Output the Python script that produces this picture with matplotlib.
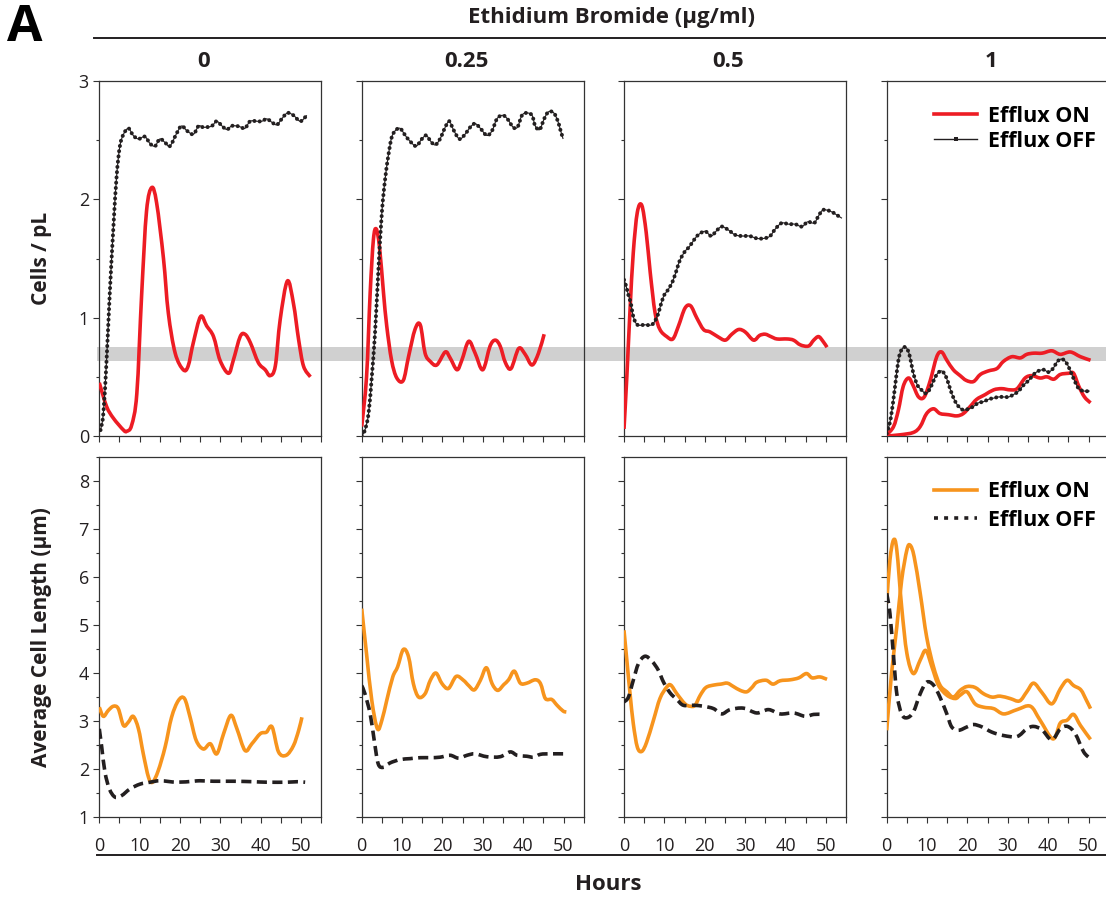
import numpy as np
import matplotlib
matplotlib.use('Agg')
import matplotlib.pyplot as plt
from matplotlib.patches import Rectangle, PathPatch
from matplotlib.path import Path
from matplotlib.lines import Line2D
from matplotlib.ticker import MultipleLocator, FuncFormatter

plt.rcParams['font.family'] = ['Open Sans', 'DejaVu Sans']

# ---- data: Ethidium Bromide concentrations ----
conc_labels = ['0', '0.25', '0.5', '1']

# cells / pL, efflux ON (red) and efflux OFF (black dotted)
cells_on_t = [
    [0, 1.8, 3.5, 6, 6.8, 8, 9.3, 10.5, 11.7, 13, 14.2, 15.9, 17.1, 18.8, 20.8, 22, 23.3, 25.1, 26.6,
     28.3, 29.9, 32, 33.2, 34.9, 36.1, 37.4, 39.4, 41.1, 42.3, 43.6, 44.8, 46.6, 48.1, 49.4, 50.6, 52.3],
    [0, 1.2, 2.1, 2.9, 3.6, 4.4, 5.4, 6.2, 7.4, 8.7, 10.3, 11.6, 13.2, 14.5, 15.7, 17, 18.6, 20.7, 21.9, 23.6,
     24.8, 26.5, 28.1, 30, 31.8, 33.1, 34.3, 35.6, 37, 38.9, 40.5, 42.2, 43.8, 45.2],
    [0, 0.7, 1.5, 2.3, 3.3, 4.4, 5.5, 6.5, 7.7, 8.9, 10.6, 12.1, 13.5, 15.1, 16.5, 18, 19.7, 21.3, 23.2, 25.1,
     26.7, 28.4, 30, 32.1, 33.6, 35, 36.4, 37.9, 40.4, 42, 43.7, 45.7, 47, 48.2, 49.3, 50.3],
]
cells_on = [
    [0.45, 0.25, 0.15, 0.05, 0.04, 0.09, 0.36, 1.2, 1.9, 2.1, 1.97, 1.5, 1.04, 0.70, 0.56, 0.59, 0.79,
     1.01, 0.93, 0.84, 0.64, 0.53, 0.64, 0.84, 0.86, 0.79, 0.62, 0.56, 0.51, 0.59, 0.98, 1.31, 1.12, 0.81, 0.59, 0.50],
    [0.08, 0.5, 1.21, 1.66, 1.75, 1.6, 1.21, 0.93, 0.64, 0.49, 0.47, 0.67, 0.9, 0.94, 0.7, 0.63, 0.60, 0.71, 0.66,
     0.56, 0.64, 0.8, 0.7, 0.56, 0.76, 0.81, 0.76, 0.62, 0.57, 0.74, 0.69, 0.60, 0.7, 0.86],
    [0.06, 0.5, 1.07, 1.55, 1.89, 1.95, 1.72, 1.38, 1.04, 0.9, 0.84, 0.82, 0.93, 1.08, 1.1, 1.0, 0.9, 0.88, 0.84,
     0.81, 0.86, 0.9, 0.88, 0.81, 0.85, 0.86, 0.84, 0.82, 0.82, 0.81, 0.77, 0.76, 0.81, 0.84, 0.8, 0.75],
]
# highest concentration has two efflux-ON replicates
cells_on_1a_t = [0, 1.7, 2.9, 4.1, 5.4, 6.5, 7.9, 9.3, 10.8, 12.4, 13.6, 14.9, 16.5, 18.2, 19.7, 21.5, 23.2, 25.2,
                 27.3, 28.9, 31, 33.1, 34.7, 36.4, 38.5, 40.9, 43, 45.5, 48, 50.5]
cells_on_1a = [0.01, 0.08, 0.22, 0.42, 0.49, 0.43, 0.33, 0.33, 0.47, 0.67, 0.71, 0.64, 0.56, 0.51, 0.47, 0.46,
               0.52, 0.55, 0.57, 0.63, 0.67, 0.66, 0.69, 0.7, 0.7, 0.72, 0.69, 0.71, 0.67, 0.64]
cells_on_1b_t = [0, 3.3, 6.6, 8.3, 9.9, 11.6, 13.2, 15.3, 17.4, 19, 20.7, 22.3, 24.4, 26.5, 28.5, 30.6, 32.3,
                 34.3, 36, 38, 39.7, 41.4, 43, 45.1, 46.3, 47.6, 49, 50.5]
cells_on_1b = [0, 0.01, 0.03, 0.08, 0.19, 0.23, 0.19, 0.18, 0.17, 0.19, 0.25, 0.31, 0.35, 0.39, 0.4, 0.39, 0.4,
               0.49, 0.51, 0.49, 0.5, 0.48, 0.52, 0.53, 0.53, 0.42, 0.33, 0.28]

cells_off_t = [
    [0.3, 1, 1.8, 2.6, 3.5, 4.3, 5.1, 6, 7.2, 8.4, 9.7, 11.3, 12.6, 13.8, 15, 16.3, 17.5, 19.2, 20.4, 21.7, 23.3,
     24.6, 25.6, 26.6, 27.9, 29.1, 30.4, 31.6, 32.8, 34.1, 35.1, 36.1, 37.4, 39, 40.3, 41.5, 42.8, 44, 45.2, 46.6,
     48.1, 49.8, 51.4],
    [0, 0.8, 1.7, 2.5, 3.3, 4.1, 5, 5.8, 6.6, 7.4, 8.3, 9.5, 10.8, 12, 13.5, 14.9, 16, 17.1, 18.2, 19.4, 20.7,
     21.7, 22.7, 24.2, 25.6, 26.9, 28.1, 29.4, 31, 32.3, 33.5, 34.9, 36.1, 37.5, 38.6, 39.7, 40.9, 42.2, 43,
     44.1, 45.2, 46.3, 47.6, 48.6, 49.2, 49.9],
    [0, 0.5, 1.1, 1.7, 2.3, 3.3, 5.2, 6.9, 8.1, 8.8, 9.8, 11, 12.1, 13.2, 13.9, 15.1, 16.2, 17.2, 18.4, 20.1,
     21.6, 22.8, 24.2, 25.9, 27.5, 29.2, 31.1, 32.9, 34.7, 36.2, 37.5, 39.1, 40.8, 42.4, 44.1, 45.5, 47.1, 48.2,
     49.3, 51.1, 52.6, 54],
    [0, 1, 2, 2.9, 3.7, 4.7, 5.6, 6.6, 7.6, 8.6, 9.6, 10.4, 11.4, 12.4, 13.6, 14.7, 15.7, 16.7, 17.8, 19, 20.3,
     21.5, 22.7, 24, 25.2, 26.5, 27.7, 28.9, 30.2, 31.4, 32.7, 33.9, 35.2, 36.4, 37.6, 38.9, 40.1, 41.2, 42.3,
     43.4, 44.5, 45.5, 46.5, 47.6, 48.8, 50.3],
]
cells_off = [
    [0.05, 0.19, 0.64, 1.21, 1.77, 2.2, 2.45, 2.55, 2.6, 2.54, 2.51, 2.53, 2.47, 2.45, 2.51, 2.48, 2.45, 2.56,
     2.62, 2.58, 2.55, 2.62, 2.61, 2.61, 2.62, 2.66, 2.62, 2.59, 2.62, 2.62, 2.61, 2.6, 2.66, 2.66, 2.66, 2.68,
     2.65, 2.63, 2.68, 2.73, 2.71, 2.66, 2.71],
    [0, 0.05, 0.19, 0.5, 0.87, 1.38, 1.89, 2.17, 2.37, 2.52, 2.58, 2.6, 2.54, 2.49, 2.45, 2.51, 2.54, 2.49, 2.46,
     2.51, 2.61, 2.66, 2.59, 2.51, 2.55, 2.61, 2.64, 2.6, 2.54, 2.58, 2.68, 2.71, 2.68, 2.61, 2.61, 2.71, 2.73,
     2.71, 2.62, 2.59, 2.68, 2.74, 2.73, 2.66, 2.59, 2.51],
    [1.32, 1.27, 1.19, 1.12, 1.01, 0.94, 0.94, 0.94, 1.0, 1.07, 1.18, 1.24, 1.31, 1.42, 1.49, 1.56, 1.60, 1.65,
     1.70, 1.73, 1.69, 1.73, 1.77, 1.74, 1.70, 1.69, 1.69, 1.67, 1.67, 1.69, 1.75, 1.80, 1.79, 1.79, 1.77, 1.81,
     1.80, 1.86, 1.91, 1.90, 1.87, 1.84],
    [0.02, 0.15, 0.4, 0.64, 0.73, 0.75, 0.69, 0.53, 0.43, 0.39, 0.36, 0.38, 0.45, 0.52, 0.55, 0.50, 0.40, 0.31,
     0.25, 0.22, 0.23, 0.25, 0.28, 0.29, 0.31, 0.32, 0.33, 0.33, 0.33, 0.35, 0.38, 0.43, 0.47, 0.52, 0.55, 0.56,
     0.54, 0.57, 0.63, 0.65, 0.62, 0.55, 0.47, 0.40, 0.38, 0.38],
]

# average cell length (um), efflux ON (orange) and efflux OFF (black dashed)
length_on_t = [
    [0, 1, 2.2, 3.5, 4.7, 6, 7.2, 8.4, 9.7, 10.9, 12.2, 13.2, 14.6, 16.3, 17.9, 19.6, 21.1, 22.5, 24, 25.8, 27.5,
     29.1, 30.8, 32.6, 34.1, 36.1, 37.8, 39.9, 41.4, 42.8, 44.4, 46.3, 48.1, 49.4, 50.2],
    [0, 1.2, 2.5, 3.9, 5, 6.2, 7.7, 8.9, 10.3, 11.6, 12.8, 14.1, 15.7, 17, 18.4, 19.9, 21.5, 23.4, 25.2, 26.5,
     27.9, 29.4, 30.9, 32.3, 33.7, 35.2, 36.4, 37.8, 39.3, 40.9, 43, 44.3, 45.5, 47.1, 48.4, 49.9, 50.7],
    [0, 0.7, 1.5, 2.3, 3.3, 4.4, 5.6, 7.3, 8.9, 10.6, 11.6, 13.1, 15.1, 16.4, 17.6, 18.9, 20.3, 22.2, 24, 25.6,
     27.1, 28.8, 30.4, 31.7, 32.9, 35.2, 36.9, 38.7, 41.2, 43.3, 45.2, 46.6, 48.5, 50.3],
]
length_on = [
    [3.29, 3.1, 3.22, 3.31, 3.26, 2.91, 2.98, 3.1, 2.84, 2.32, 1.83, 1.73, 1.97, 2.46, 3.08, 3.43, 3.47, 3.08,
     2.6, 2.42, 2.53, 2.32, 2.74, 3.12, 2.84, 2.39, 2.53, 2.74, 2.77, 2.88, 2.36, 2.29, 2.49, 2.81, 3.08],
    [5.34, 4.4, 3.43, 2.84, 3.02, 3.43, 3.92, 4.13, 4.49, 4.34, 3.78, 3.5, 3.57, 3.85, 4.0, 3.78, 3.68, 3.93,
     3.85, 3.74, 3.65, 3.85, 4.11, 3.78, 3.64, 3.76, 3.86, 4.04, 3.79, 3.79, 3.86, 3.78, 3.47, 3.45, 3.33,
     3.21, 3.19],
    [4.89, 4.27, 3.57, 2.95, 2.46, 2.37, 2.56, 3.02, 3.47, 3.71, 3.75, 3.57, 3.36, 3.31, 3.33, 3.54, 3.7, 3.75,
     3.77, 3.79, 3.72, 3.64, 3.61, 3.7, 3.81, 3.85, 3.77, 3.84, 3.86, 3.9, 3.99, 3.9, 3.92, 3.87],
]
length_on_1a_t = [0, 0.8, 1.7, 2.5, 3.7, 5, 6.6, 8.3, 9.7, 11.2, 12.8, 14.9, 17, 18.2, 19.9, 21.9, 24, 26.5, 29,
                  32.3, 35.6, 38, 41.2, 43, 44.7, 46.3, 48, 50.5]
length_on_1a = [5.45, 6.35, 6.77, 6.56, 5.38, 4.41, 3.99, 4.27, 4.47, 4.13, 3.75, 3.54, 3.47, 3.54, 3.61, 3.36,
                3.29, 3.26, 3.15, 3.24, 3.31, 3.02, 2.63, 2.96, 3.02, 3.14, 2.91, 2.62]
length_on_1b_t = [0, 1.2, 2.5, 3.7, 5, 5.8, 6.8, 8.3, 9.9, 11.6, 13.2, 14.9, 16.5, 18.2, 19.9, 21.9, 24, 26.1,
                  28.1, 30.6, 32.9, 34.7, 36.4, 38.5, 40.9, 43, 44.7, 46.3, 48.1, 49.5, 50.5]
length_on_1b = [2.81, 3.99, 4.96, 5.93, 6.56, 6.66, 6.42, 5.66, 4.75, 4.13, 3.75, 3.61, 3.5, 3.64, 3.72, 3.7,
                3.57, 3.5, 3.52, 3.47, 3.42, 3.61, 3.79, 3.59, 3.36, 3.67, 3.85, 3.74, 3.65, 3.43, 3.26]

length_off_t = [
    [0, 0.6, 1.4, 2.5, 3.9, 5.5, 7.6, 10.1, 12.6, 15.1, 19.2, 23.3, 24.9, 28.3, 33.3, 38.2, 41.5, 46.5, 49, 51],
    [0, 0.8, 2.1, 3.1, 4.1, 5.4, 7, 9.5, 12, 14.5, 17, 19.4, 21.9, 24, 26.1, 28.1, 31, 34.3, 36.8, 38.5, 40.9,
     42.6, 44.3, 46.7, 49.9],
    [0, 1.1, 2.3, 3.6, 5.2, 6.9, 8.5, 9.8, 11.4, 13.1, 14.7, 17.2, 19.7, 22.2, 24.2, 26.3, 29.6, 32.9, 35.8,
     38.7, 42, 44.9, 47, 49],
    [0, 0.8, 1.7, 2.5, 3.7, 5, 6.6, 8.3, 9.9, 11.6, 13.2, 14.9, 16.1, 17.8, 19.9, 21.5, 23.6, 26.1, 29, 32.3,
     34.7, 36.4, 38.5, 40.9, 43, 44.8, 46.7, 48.8, 50.5],
]
length_off = [
    [2.84, 2.46, 1.94, 1.59, 1.42, 1.45, 1.59, 1.69, 1.73, 1.76, 1.73, 1.75, 1.76, 1.75, 1.75, 1.74, 1.73, 1.73,
     1.74, 1.73],
    [3.74, 3.57, 3.15, 2.6, 2.11, 2.04, 2.13, 2.2, 2.22, 2.24, 2.24, 2.25, 2.29, 2.23, 2.29, 2.32, 2.26, 2.26,
     2.36, 2.29, 2.27, 2.25, 2.31, 2.32, 2.32],
    [3.4, 3.5, 3.85, 4.2, 4.35, 4.25, 4.06, 3.81, 3.59, 3.45, 3.33, 3.33, 3.31, 3.26, 3.15, 3.24, 3.27, 3.17,
     3.24, 3.15, 3.17, 3.1, 3.14, 3.14],
    [5.66, 5.24, 4.34, 3.57, 3.15, 3.07, 3.19, 3.57, 3.81, 3.75, 3.5, 3.15, 2.88, 2.81, 2.88, 2.93, 2.88, 2.77,
     2.7, 2.68, 2.84, 2.89, 2.82, 2.61, 2.84, 2.89, 2.74, 2.36, 2.22],
]

# ---- styling ----
RED = '#ED1C24'
ORANGE = '#F7941D'
INK = '#231F20'
W, H = 1106, 901

fig = plt.figure(figsize=(W / 100, H / 100), dpi=100)


def px_axes(left, top, w, h):
    return fig.add_axes([left / W, 1 - (top + h) / H, w / W, h / H])


def fx(x):
    return x / W


def fy(y):
    return 1 - y / H


def smooth_line(ax, t, v, **kw):
    # smoothed line through the points (cubic Bezier segments, spreadsheet style)
    pts = np.column_stack([np.asarray(t, float), np.asarray(v, float)])
    n = len(pts)
    verts = [pts[0]]
    codes = [Path.MOVETO]
    for k in range(n - 1):
        p0 = pts[k - 1] if k > 0 else pts[k]
        p1, p2 = pts[k], pts[k + 1]
        p3 = pts[k + 2] if k + 2 < n else pts[k + 1]
        verts += [p1 + (p2 - p0) / 6, p2 - (p3 - p1) / 6, p2]
        codes += [Path.CURVE4] * 3
    patch = PathPatch(Path(verts, codes), facecolor='none', joinstyle='round', **kw)
    ax.add_patch(patch)
    return patch


def dotted_line(ax, t, v):
    # thin line threaded with round beads
    smooth_line(ax, t, v, edgecolor=INK, lw=0.8, zorder=4)
    smooth_line(ax, t, v, edgecolor=INK, lw=2.9, linestyle=(0, (0.01, 1.3)), capstyle='round', zorder=4)


lefts = [99.3, 361.7, 624, 886.7]
panel_w = 222


def style_axes(ax, show_y, show_x):
    ax.set_facecolor('none')
    for s in ax.spines.values():
        s.set_color('#333333')
        s.set_linewidth(0.9)
    ax.set_xlim(0, 55)
    ax.xaxis.set_major_locator(MultipleLocator(5))
    ax.tick_params(which='both', direction='out', color='#333333', width=0.8, labelsize=13,
                   labelcolor=INK)
    ax.tick_params(which='major', length=4)
    ax.tick_params(which='minor', length=2)
    ax.tick_params(axis='x', pad=10)
    if show_x:
        ax.xaxis.set_major_formatter(FuncFormatter(
            lambda v, p: f'{int(v)}' if (int(round(v)) % 10 == 0 and v <= 50) else ''))
    else:
        ax.tick_params(axis='x', labelbottom=False)
    if not show_y:
        ax.tick_params(axis='y', labelleft=False)


# gray reference band behind the top row
fig.add_artist(Rectangle((fx(97), fy(361)), fx(1106 - 97), 14 / H, transform=fig.transFigure,
                         facecolor='#D0D0D0', edgecolor='none', zorder=-1))

legend_kw = dict(loc='upper right', frameon=False, handlelength=2.0, handletextpad=0.5,
                 prop=dict(weight='bold', size=15.5))

for i in range(4):
    # top row: cells / pL
    ax = px_axes(lefts[i], 81, panel_w, 355)
    style_axes(ax, show_y=(i == 0), show_x=False)
    ax.set_ylim(0, 3)
    ax.yaxis.set_major_locator(MultipleLocator(1))
    ax.yaxis.set_minor_locator(MultipleLocator(0.5))
    if i < 3:
        smooth_line(ax, cells_on_t[i], cells_on[i], edgecolor=RED, lw=2.6, zorder=3)
    else:
        smooth_line(ax, cells_on_1a_t, cells_on_1a, edgecolor=RED, lw=2.6, zorder=3)
        smooth_line(ax, cells_on_1b_t, cells_on_1b, edgecolor=RED, lw=2.6, zorder=3)
    dotted_line(ax, cells_off_t[i], cells_off[i])
    if i == 3:
        handles = [Line2D([], [], color=RED, lw=2.6),
                   Line2D([], [], color=INK, lw=1.0, marker='s', markersize=3.2, markevery=[0, 1, 2, 3],
                          markeredgewidth=0)]
        ax.legend(handles, ['Efflux ON', 'Efflux OFF'], bbox_to_anchor=(1.03, 0.985), labelspacing=0.2,
                  **legend_kw)
    ax.text(0.47, 1.025, conc_labels[i], transform=ax.transAxes, ha='center', va='bottom',
            fontsize=16, fontweight='bold', color=INK)

    # bottom row: average cell length
    ax = px_axes(lefts[i], 456.7, panel_w, 360.6)
    style_axes(ax, show_y=(i == 0), show_x=True)
    ax.set_ylim(1, 8.5)
    ax.yaxis.set_major_locator(MultipleLocator(1))
    ax.yaxis.set_minor_locator(MultipleLocator(0.5))
    if i < 3:
        smooth_line(ax, length_on_t[i], length_on[i], edgecolor=ORANGE, lw=2.6, zorder=3)
    else:
        smooth_line(ax, length_on_1a_t, length_on_1a, edgecolor=ORANGE, lw=2.6, zorder=3)
        smooth_line(ax, length_on_1b_t, length_on_1b, edgecolor=ORANGE, lw=2.6, zorder=3)
    smooth_line(ax, length_off_t[i], length_off[i], edgecolor=INK, lw=2.6, linestyle=(0, (2.8, 1.5)),
                zorder=4)
    if i == 3:
        handles = [Line2D([], [], color=ORANGE, lw=2.6),
                   Line2D([], [], color=INK, lw=2.6, linestyle=(0, (1.1, 1.7)))]
        ax.legend(handles, ['Efflux ON', 'Efflux OFF'], bbox_to_anchor=(1.03, 0.985), labelspacing=0.35,
                  **legend_kw)

# header and footer
fig.text(fx(7), fy(28), 'A', fontsize=37, fontweight='bold', ha='left', va='center', color='black')
fig.text(fx(612), fy(18), 'Ethidium Bromide (µg/ml)', fontsize=16, fontweight='bold', ha='center',
         va='center', color=INK)
fig.add_artist(Line2D([fx(94), fx(1106)], [fy(37.5), fy(37.5)], transform=fig.transFigure, lw=1.4,
                      color=INK))
fig.add_artist(Line2D([fx(97), fx(1106)], [fy(855), fy(855)], transform=fig.transFigure, lw=1.4,
                      color=INK))
fig.text(fx(608), fy(884), 'Hours', fontsize=16, fontweight='bold', ha='center', va='center', color=INK)
fig.text(fx(42), fy(258), 'Cells / pL', fontsize=15, fontweight='bold', rotation=90, ha='center',
         va='center', color=INK)
fig.text(fx(42), fy(637), 'Average Cell Length (µm)', fontsize=15, fontweight='bold', rotation=90,
         ha='center', va='center', color=INK)

fig.savefig('out.png', dpi=100)
